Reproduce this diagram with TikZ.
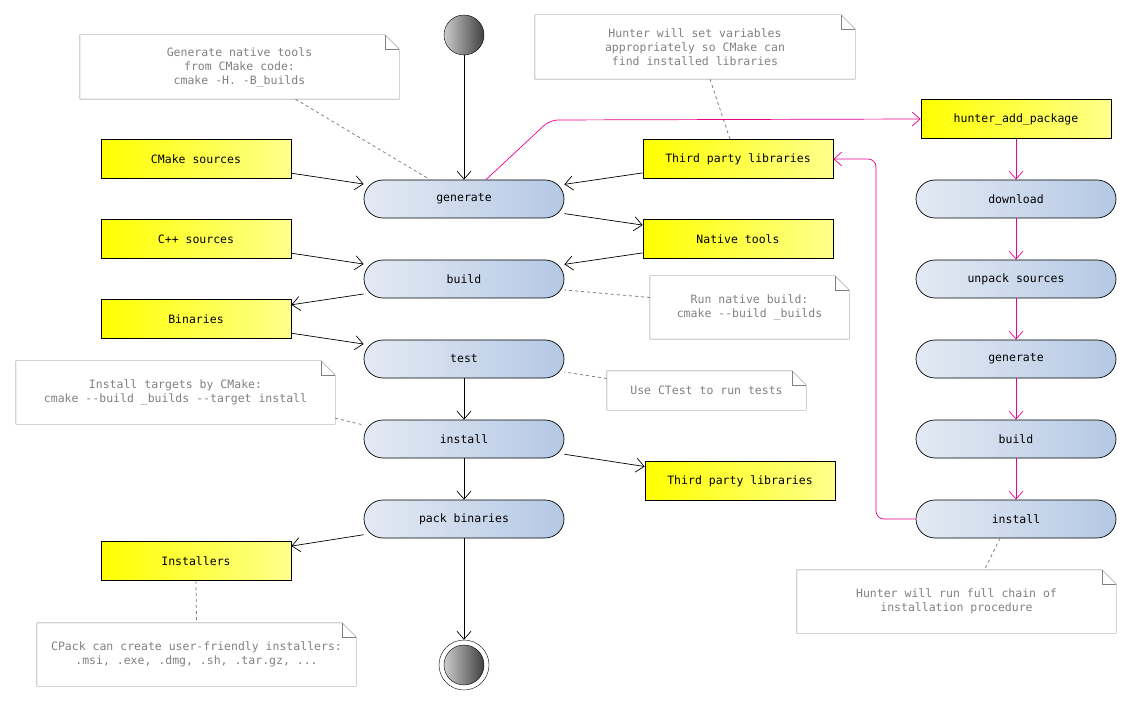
\documentclass[tikz,border=0pt]{standalone}
\usepackage{fontspec}
\setmonofont{DejaVu Sans Mono}
\usetikzlibrary{arrows.meta}
\usetikzlibrary{positioning}
\usetikzlibrary{shapes}
\definecolor{actl}{RGB}{228,234,244}
\definecolor{actr}{RGB}{180,200,228}
\begin{document}
\begin{tikzpicture}[x=1pt, y=-1pt, font=\ttfamily\fontsize{11.5}{14}\selectfont,
		act/.style={draw, rounded corners=19pt, minimum width=200pt, minimum height=38pt, left color=actl, right color=actr, line width=0.7pt},
		obj/.style={draw, minimum width=190pt, minimum height=39pt, left color=yellow, right color=yellow!45!white, line width=0.7pt},
		note/.style={text=gray, align=center, inner sep=0pt},
		link/.style={draw=gray, dashed, line width=0.8pt},
		flow/.style={-{Straight Barb[length=8pt, width=14pt]}, line width=0.7pt},
		hflow/.style={flow, draw=magenta, rounded corners=8pt}]
			\useasboundingbox (0,0) rectangle (1132,708);
			% start and end
			\node[circle, draw, minimum size=40pt, inner sep=0pt, left color=gray!40, right color=black!75] (start) at (464,35) {};
			\node[circle, draw, minimum size=50pt, inner sep=0pt] (stop) at (464,665) {};
			\node[circle, draw, minimum size=40pt, inner sep=0pt, left color=gray!40, right color=black!75] at (464,665) {};
			% main chain
			\node[act] (gen) at (464,199) {generate};
			\node[act] (bld) at (464,279) {build};
			\node[act] (tst) at (464,359) {test};
			\node[act] (ins) at (464,439) {install};
			\node[act] (pck) at (464,519) {pack binaries};
			% objects
			\node[obj] (cms) at (196,159) {CMake sources};
			\node[obj] (cps) at (196,239) {C++ sources};
			\node[obj] (bin) at (196,319) {Binaries};
			\node[obj] (ist) at (196,561) {Installers};
			\node[obj] (tpa) at (738,159) {Third party libraries};
			\node[obj] (nat) at (738,239) {Native tools};
			\node[obj] (tpb) at (740,481) {Third party libraries};
			% hunter chain
			\node[obj] (hap) at (1016,119) {hunter\_add\_package};
			\node[act] (hdl) at (1016,199) {download};
			\node[act] (hup) at (1016,279) {unpack sources};
			\node[act] (hgn) at (1016,359) {generate};
			\node[act] (hbd) at (1016,439) {build};
			\node[act] (his) at (1016,519) {install};
			% notes
			\node[note, minimum width=319pt, minimum height=64pt] (n1) at (239.5,67) {Generate native tools\\from CMake code:\\cmake -H. -B\_builds};
			\node[note, minimum width=320pt, minimum height=64pt] (n2) at (695,47) {Hunter will set variables\\appropriately so CMake can\\find installed libraries};
			\node[note, minimum width=199pt, minimum height=63pt] (n3) at (749.5,307.5) {Run native build:\\cmake --build \_builds};
			\node[note, minimum width=199pt, minimum height=39pt] (n4) at (706.5,390.5) {Use CTest to run tests};
			\node[note, minimum width=319pt, minimum height=63pt] (n5) at (175.5,392.5) {Install targets by CMake:\\cmake --build \_builds --target install};
			\node[note, minimum width=319pt, minimum height=63pt] (n6) at (196.5,654.5) {CPack can create user-friendly installers:\\.msi, .exe, .dmg, .sh, .tar.gz, ...};
			\node[note, minimum width=319pt, minimum height=63pt] (n7) at (956.5,601.5) {Hunter will run full chain of\\installation procedure};
			\foreach \n in {n1,n2,n3,n4,n5,n6,n7} {
				\draw[gray] (\n.south west) -- (\n.north west) -- ([xshift=-14pt]\n.north east) -- ([yshift=-14pt]\n.north east) -- (\n.south east) -- cycle;
				\draw[gray] ([xshift=-14pt]\n.north east) -- ([xshift=-14pt, yshift=-14pt]\n.north east) -- ([yshift=-14pt]\n.north east);
			}
			% note links
			\draw[link] (n1.south) ++(56,0) -- ([xshift=-34pt]gen.north);
			\draw[link] ([xshift=15pt]n2.south) -- ([xshift=-8pt]tpa.north);
			\draw[link] (n3.west) ++(0,-10) -- ([yshift=-11pt]bld.east);
			\draw[link] ([yshift=12pt]n4.west) -- ([yshift=-13pt]tst.east);
			\draw[link] ([yshift=6pt]n5.south east) -- ([yshift=14pt]ins.west);
			\draw[link] (ist.south) -- (n6.north);
			\draw[link] ([xshift=-16pt]his.south) -- ([xshift=28pt]n7.north);
			% main flow
			\draw[flow] (start) -- (gen);
			\draw[flow] (cms) -- (gen);
			\draw[flow] (tpa) -- (gen);
			\draw[flow] (gen) -- (nat);
			\draw[flow] (cps) -- (bld);
			\draw[flow] (nat) -- (bld);
			\draw[flow] (bld) -- (bin);
			\draw[flow] (bin) -- (tst);
			\draw[flow] (tst) -- (ins);
			\draw[flow] (ins) -- (tpb);
			\draw[flow] (ins) -- (pck);
			\draw[flow] (pck) -- (ist);
			\draw[flow] (pck) -- (stop);
			% hunter flow
			\draw[hflow] ([xshift=22pt]gen.north) -- (550,120) -- (hap.west);
			\draw[hflow] (hap) -- (hdl);
			\draw[hflow] (hdl) -- (hup);
			\draw[hflow] (hup) -- (hgn);
			\draw[hflow] (hgn) -- (hbd);
			\draw[hflow] (hbd) -- (his);
			\draw[hflow] (his.west) -- (876,519) -- (876,159) -- (tpa.east);
		\end{tikzpicture}
\end{document}
